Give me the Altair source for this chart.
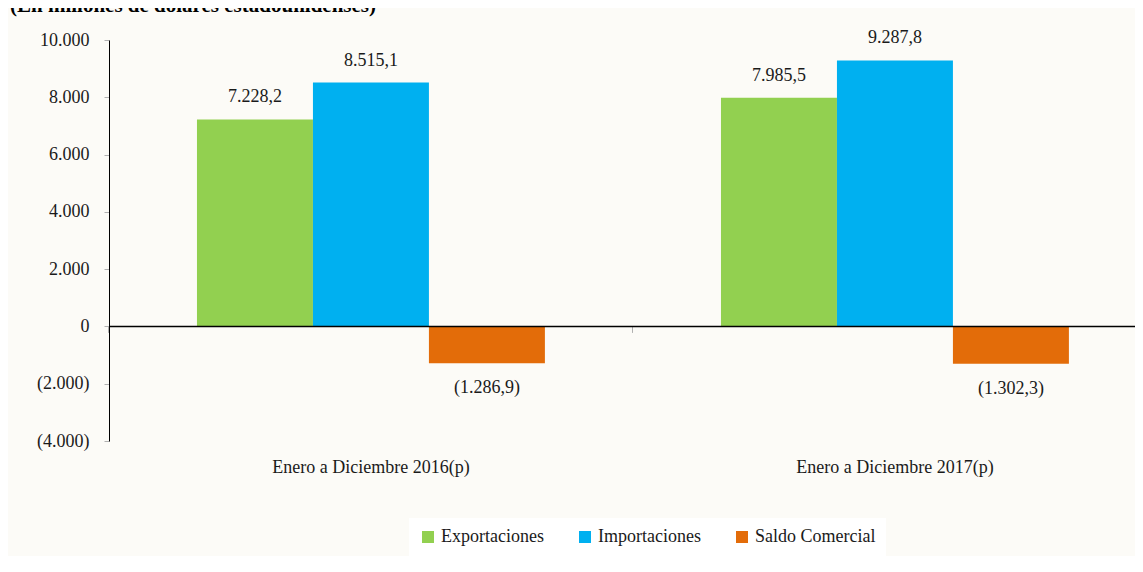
import altair as alt
import pandas as pd

categories = ["Enero a Diciembre 2016(p)", "Enero a Diciembre 2017(p)"]
series = ["Exportaciones", "Importaciones", "Saldo Comercial"]
exportaciones = [7228.2, 7985.5]
importaciones = [8515.1, 9287.8]
saldo = [-1286.9, -1302.3]
colors = ["#92D050", "#00B0F0", "#E36C09"]
y_ticks = [-4000, -2000, 0, 2000, 4000, 6000, 8000, 10000]
title_text = "(En millones de dólares estadounidenses)"


def fmt(v):
    s = f"{abs(v):,.1f}".replace(",", "X").replace(".", ",").replace("X", ".")
    return f"({s})" if v < 0 else s


rows = []
for i, c in enumerate(categories):
    for s, vals in zip(series, [exportaciones, importaciones, saldo]):
        rows.append({"cat": c, "serie": s, "value": vals[i], "label": fmt(vals[i])})
df = pd.DataFrame(rows)
cat_df = pd.DataFrame({"cat": categories})

FONT = "'Liberation Serif', 'Times New Roman', serif"
TXT = "#1a1a1a"
FS = 18

xscale = alt.Scale(domain=categories, paddingInner=0.336, paddingOuter=0.147, align=0.571)
xaxis = alt.Axis(title=None, labels=False, domain=False, ticks=True, bandPosition=-0.2529,
                 tickSize=6, tickColor="#B0B0B0", grid=False, offset=-114.6)
yscale = alt.Scale(domain=[-4000, 10000], nice=False, zero=False)
yaxis = alt.Axis(title=None, values=y_ticks, grid=False, domainColor="#000000",
                 tickColor="#B0B0B0", tickSize=5, labelPadding=15,
                 labelFont=FONT, labelFontSize=FS, labelColor=TXT,
                 labelExpr="datum.value < 0 ? '(' + replace(format(-datum.value, ','), ',', '.') + ')' : replace(format(datum.value, ','), ',', '.')")

X = alt.X("cat:N", scale=xscale, axis=xaxis, sort=categories)
XO = alt.XOffset("serie:N", sort=series, scale=alt.Scale(paddingInner=0, paddingOuter=0))
Y = alt.Y("value:Q", scale=yscale, axis=yaxis)

bars = alt.Chart(df).mark_bar().encode(
    x=X, xOffset=XO, y=Y,
    color=alt.Color("serie:N", sort=series,
                    scale=alt.Scale(domain=series, range=colors),
                    legend=alt.Legend(title=None, orient="none", legendX=300, legendY=478,
                                      direction="horizontal", fillColor="#FFFFFF", padding=10,
                                      symbolType="square", symbolSize=144, symbolStrokeWidth=0,
                                      labelFont=FONT, labelFontSize=FS, labelColor=TXT,
                                      labelLimit=0, columnPadding=14, gridAlign="all",
                                      labelOffset=4)),
)

pos = alt.Chart(df[df.value >= 0]).mark_text(
    font=FONT, fontSize=FS, color=TXT, baseline="alphabetic", dy=-17
).encode(x=X, xOffset=XO, y=Y, text="label:N")

neg = alt.Chart(df[df.value < 0]).mark_text(
    font=FONT, fontSize=FS, color=TXT, baseline="alphabetic", dy=30
).encode(x=X, xOffset=XO, y=Y, text="label:N")

zero = alt.Chart(pd.DataFrame({"z": [0]})).mark_rule(color="#000000", strokeWidth=1.5).encode(
    y=alt.Y("z:Q", scale=yscale, axis=yaxis)
)

cat_labels = alt.Chart(cat_df).mark_text(
    font=FONT, fontSize=FS, color=TXT, baseline="alphabetic", dy=32
).encode(x=X, y=alt.datum(-4000), text="cat:N")

chart = alt.layer(bars, zero, pos, neg, cat_labels).properties(
    width=1026, height=401,
    autosize=alt.AutoSizeParams(type="none"),
    padding={"left": 101, "top": 32, "right": 0, "bottom": 115},
    background="#FCFBF7",
    title=alt.TitleParams(title_text, anchor="start", frame="group", dx=-99, dy=18, offset=14,
                          font=FONT, fontSize=21, fontWeight="bold", color="#000000",
                          baseline="alphabetic"),
).configure_view(stroke=None)

chart.save("out.html", embed_options={"renderer": "svg", "actions": False})
